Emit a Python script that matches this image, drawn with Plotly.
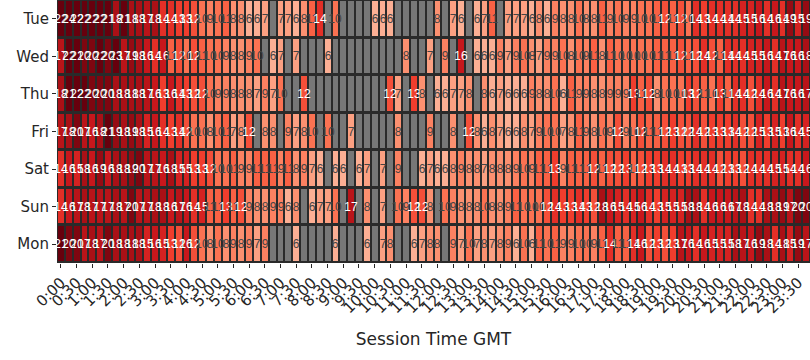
import plotly.graph_objects as go

N = None
days = ["Tue", "Wed", "Thu", "Fri", "Sat", "Sun", "Mon"]

tue = [22, 24, 22, 22, 22, 22, 21, 18, 21, 18, 18, 17, 18, 14, 14, 13, 13, 12, 10, 9, 10, 11, 8, 8,
       6, 6, 7, N, 7, 7, 6, 8, 11, 14, N, 10, N, N, N, N, 6, 6, 6, N, N, N, N, N, 8,
       N, 7, 6, N, 6, 7, 11, N, 7, 7, 7, 6, 8, 6, 9, 8, 8, 10, 8, 8, 11, 9, 10, 9,
       9, 10, 10, 11, 12, 11, 12, 10, 14, 13, 14, 14, 14, 14, 15, 15, 16, 14, 16, 14, 19, 15, 19]
wed = [17, 22, 21, 20, 20, 22, 20, 23, 17, 19, 18, 16, 14, 16, 11, 12, 10, 12, 11, 10, 10, 9, 8, 8,
       9, 10, N, 6, 7, N, 7, N, N, N, 6, N, N, N, N, N, N, N, N, N, 8, N, N, 7, N,
       9, N, 16, N, 6, 6, 6, 9, 7, 9, 10, 8, 7, 9, 9, 10, 8, 10, 9, 11, 8, 11, 10, 10,
       10, 10, 10, 11, 11, 11, 12, 11, 12, 14, 12, 11, 14, 14, 14, 15, 15, 16, 14, 17, 16, 16, 18]
thu = [18, 21, 22, 22, 20, 20, 20, 18, 18, 18, 18, 17, 16, 13, 16, 14, 13, 12, 12, 10, 9, 9, 8, 8,
       8, 7, 9, 7, 10, N, N, 12, N, N, N, N, N, N, N, N, N, N, 12, 7, N, 13, 8, N, 6,
       6, 7, 7, 8, N, 8, 6, 7, 6, 6, 6, 9, 8, 8, 10, 6, 11, 9, 9, 8, 8, 9, 9, 9,
       13, 11, 12, 8, 10, 10, 10, 13, 12, 11, 10, 13, 11, 14, 14, 12, 14, 16, 14, 17, 16, 16, 17]
fri = [17, 18, 20, 17, 16, 18, 21, 19, 18, 19, 18, 15, 16, 14, 13, 14, 12, 10, 10, 8, 10, 11, 7, 8,
       12, N, 8, 8, N, 9, 7, 8, 10, N, 10, N, N, 7, N, N, N, N, N, 8, N, N, N, 9, N,
       N, 8, N, 12, 8, 6, 8, 7, 6, 6, 8, 7, 9, 10, 10, 7, 8, 11, 9, 8, 10, 9, 12, 9,
       10, 12, 11, 11, 12, 13, 12, 12, 14, 12, 13, 13, 13, 14, 12, 12, 15, 13, 15, 13, 16, 14, 15]
sat = [14, 16, 15, 18, 16, 19, 16, 18, 18, 19, 20, 17, 17, 16, 18, 15, 15, 13, 13, 12, 10, 10, 11, 9,
       9, 11, 11, 11, 9, 11, 8, 9, 7, 6, N, 6, 6, N, 6, 7, N, 7, N, 9, N, N, 6, 7, 6,
       6, 8, 9, 8, 8, 7, 8, 8, 8, 9, 10, 9, 11, 11, 13, 9, 11, 11, 11, 12, 11, 12, 12, 13,
       11, 12, 13, 13, 14, 14, 13, 13, 14, 14, 14, 12, 13, 13, 12, 14, 14, 14, 15, 15, 14, 14, 16]
sun = [14, 16, 17, 18, 17, 17, 17, 18, 17, 20, 17, 17, 18, 18, 16, 17, 16, 14, 15, 11, 11, 13, 11, 12,
       9, 8, 8, 9, 9, 6, 8, N, 6, 7, 7, 10, N, 17, N, 8, N, 7, N, 10, 9, 12, 12, 8, N,
       10, 9, 8, 8, 8, 10, 8, 8, 9, 11, 10, 10, 10, 12, 14, 13, 13, 14, 13, 12, 18, 16, 15, 14,
       15, 16, 14, 13, 15, 15, 15, 18, 18, 14, 16, 16, 16, 17, 18, 14, 14, 18, 18, 19, 17, 20, 20]
mon = [21, 20, 20, 17, 18, 17, 20, 18, 18, 18, 18, 15, 16, 15, 13, 12, 16, 12, 10, 8, 10, 8, 9, 8,
       9, 7, 9, N, N, N, 6, N, N, N, N, 6, N, N, N, 6, N, 7, 8, N, N, 6, 7, 8, 8,
       N, 9, 7, 10, 7, 8, 7, 8, 9, 6, 10, 6, 11, 10, 11, 9, 9, 10, 10, 9, 11, 14, 11, 11,
       14, 16, 12, 13, 12, 13, 17, 16, 14, 16, 15, 15, 15, 18, 17, 16, 19, 18, 14, 18, 15, 19, 17]

rows = [tue, wed, thu, fri, sat, sun, mon]
slots = list(range(96))
tick_vals = list(range(0, 96, 2))
tick_text = [f"{h}:{m:02d}" for h in range(24) for m in (0, 30)]

z = rows
text = [["" if v is None else str(v) for v in r] for r in rows]
mask = [[1 if v is None else None for v in r] for r in rows]

FONT = "DejaVu Sans, Verdana, sans-serif"

fig = go.Figure()
fig.add_trace(go.Heatmap(
    z=mask, x=slots, y=days, colorscale=[[0, "#777777"], [1, "#777777"]],
    showscale=False, xgap=2, ygap=3, hoverinfo="skip"))
fig.add_trace(go.Heatmap(
    z=z, x=slots, y=days, colorscale="Reds", zmin=0, zmax=21,
    showscale=False, xgap=2, ygap=3,
    text=text, texttemplate="%{text}",
    textfont=dict(size=12, family="Liberation Sans, Arial, sans-serif")))

fig.update_layout(
    width=810, height=360,
    margin=dict(l=57, r=0, t=0, b=97),
    paper_bgcolor="white", plot_bgcolor="#2a2a2a",
    font=dict(family=FONT, color="#262626"),
)
fig.update_xaxes(tickvals=tick_vals, ticktext=tick_text, tickangle=-45,
                 tickfont=dict(size=15), ticks="outside", ticklen=4,
                 tickcolor="#262626", automargin=False,
                 range=[-0.5, 95.5],
                 showgrid=False, zeroline=False,
                 title=dict(text="Session Time GMT", font=dict(size=17), standoff=16))
fig.update_yaxes(autorange="reversed", tickfont=dict(size=15), automargin=False,
                 ticks="outside", ticklen=4, tickcolor="#262626",
                 showgrid=False, zeroline=False)

fig.write_html("out.html", config={"displayModeBar": False},
               post_script="document.body.style.margin='0';")
